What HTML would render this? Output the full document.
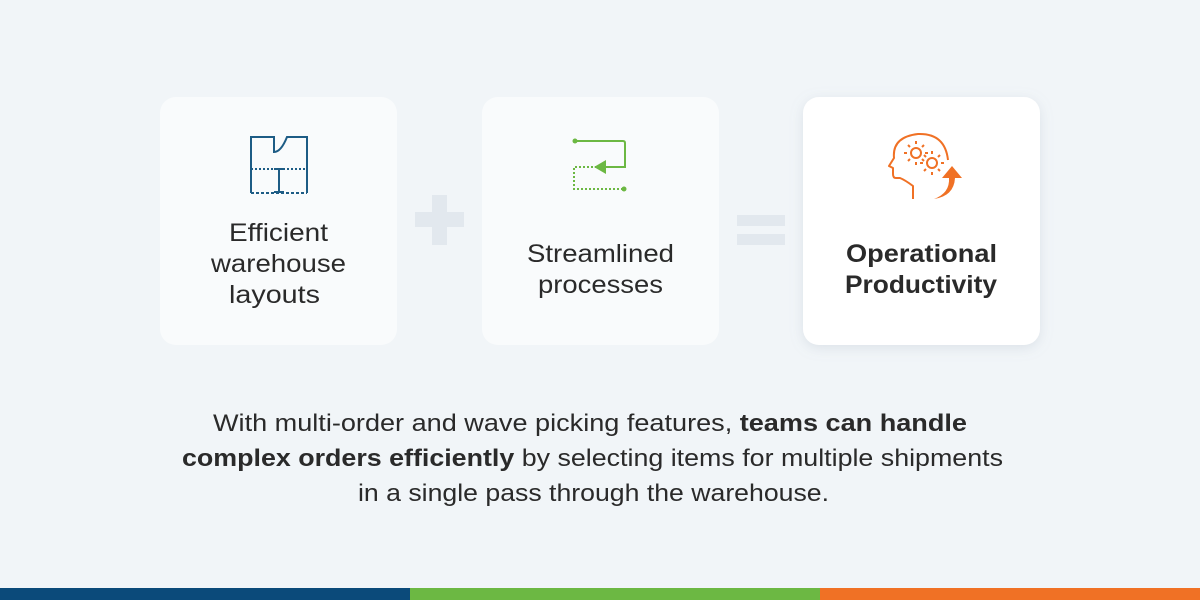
<!DOCTYPE html>
<html><head><meta charset="utf-8"><style>
html,body{margin:0;padding:0;width:1200px;height:600px;overflow:hidden;background:#f1f5f8}
</style></head><body>
<svg width="1200" height="600" viewBox="0 0 1200 600" xmlns="http://www.w3.org/2000/svg" font-family="Liberation Sans, sans-serif">
<defs>
<filter id="sh" x="-20%" y="-20%" width="140%" height="140%"><feDropShadow dx="0" dy="3" stdDeviation="6" flood-color="#9aa8b8" flood-opacity="0.25"/></filter>
</defs>
<rect width="1200" height="600" fill="#f1f5f8"/>
<rect x="160" y="97" width="237" height="248" rx="16" fill="#f9fbfc"/>
<rect x="482" y="97" width="237" height="248" rx="16" fill="#f9fbfc"/>
<rect x="803" y="97" width="237" height="248" rx="16" fill="#ffffff" filter="url(#sh)"/>
<!-- plus -->
<rect x="432" y="195" width="15" height="50" fill="#e2e8ee"/>
<rect x="415" y="212" width="49" height="15" fill="#e2e8ee"/>
<!-- equals -->
<rect x="737" y="215" width="48" height="11" fill="#e2e8ee"/>
<rect x="737" y="234" width="48" height="11" fill="#e2e8ee"/>
<!-- icon1 -->
<g stroke="#1d5c85" stroke-width="2" fill="none">
<path d="M251 193 V137 H274 V152 Q281 152 287 137 H307 V193"/>
<path d="M251 169 H307" stroke-dasharray="2 2"/>
<path d="M251 193 H307" stroke-dasharray="3 2"/>
<path d="M279 169 V193 M274 169 H284 M274 192 H284"/>
</g>
<!-- icon2 -->
<g stroke="#6cb843" stroke-width="2" fill="none">
<path d="M575 141 H623 Q625 141 625 143 V167 H603"/>
<path d="M597 167 H574 V189 H622" stroke-dasharray="2 2"/>
</g>
<circle cx="575" cy="141" r="2.5" fill="#6cb843"/>
<circle cx="624" cy="189" r="2.5" fill="#6cb843"/>
<path d="M594 167 L606 160 V174 Z" fill="#6cb843"/>
<!-- icon3 -->
<g stroke="#f07125" stroke-width="2" fill="none" stroke-linejoin="round">
<path d="M913 199 V186 Q905 180 900 178 H896 Q893 178 893 174 V168 L889 166 L894 158 Q892 137 918 134 Q945 133 948 160"/>
<circle cx="916" cy="153" r="5"/><circle cx="932" cy="163" r="5"/>
<path d="M916 144v-3M916 162v3M907 153h-3M925 153h3M910 147l-2-2M922 159l2 2M910 159l-2 2M922 147l2-2"/>
<path d="M932 154v-3M932 172v3M923 163h-3M941 163h3M926 157l-2-2M938 169l2 2M926 169l-2 2M938 157l2-2"/>
</g>
<path d="M934 199 Q950 193 949 178 H942 L952 166 L962 178 H955 Q954 196 934 199 Z" fill="#f07125"/>
<!-- texts -->
<g font-size="25" fill="#2a2a2a" text-anchor="start">
<text x="229" y="241" textLength="99" lengthAdjust="spacingAndGlyphs">Efficient</text>
<text x="211" y="272" textLength="135" lengthAdjust="spacingAndGlyphs">warehouse</text>
<text x="229" y="303" textLength="91" lengthAdjust="spacingAndGlyphs">layouts</text>
<text x="527" y="262" textLength="147" lengthAdjust="spacingAndGlyphs">Streamlined</text>
<text x="538" y="293" textLength="125" lengthAdjust="spacingAndGlyphs">processes</text>
<text x="846" y="262" textLength="151" lengthAdjust="spacingAndGlyphs" font-weight="bold">Operational</text>
<text x="845" y="293" textLength="152" lengthAdjust="spacingAndGlyphs" font-weight="bold">Productivity</text>
</g>
<g font-size="24" fill="#2a2a2a">
<text x="213" y="431" textLength="754" lengthAdjust="spacingAndGlyphs">With multi-order and wave picking features, <tspan font-weight="bold">teams can handle</tspan></text>
<text x="182" y="466" textLength="821" lengthAdjust="spacingAndGlyphs"><tspan font-weight="bold">complex orders efficiently</tspan> by selecting items for multiple shipments</text>
<text x="358" y="501" textLength="471" lengthAdjust="spacingAndGlyphs">in a single pass through the warehouse.</text>
</g>
<rect x="0" y="588" width="410" height="12" fill="#0b4a7a"/>
<rect x="410" y="588" width="410" height="12" fill="#6cb843"/>
<rect x="820" y="588" width="380" height="12" fill="#f07125"/>
</svg>
</body></html>
